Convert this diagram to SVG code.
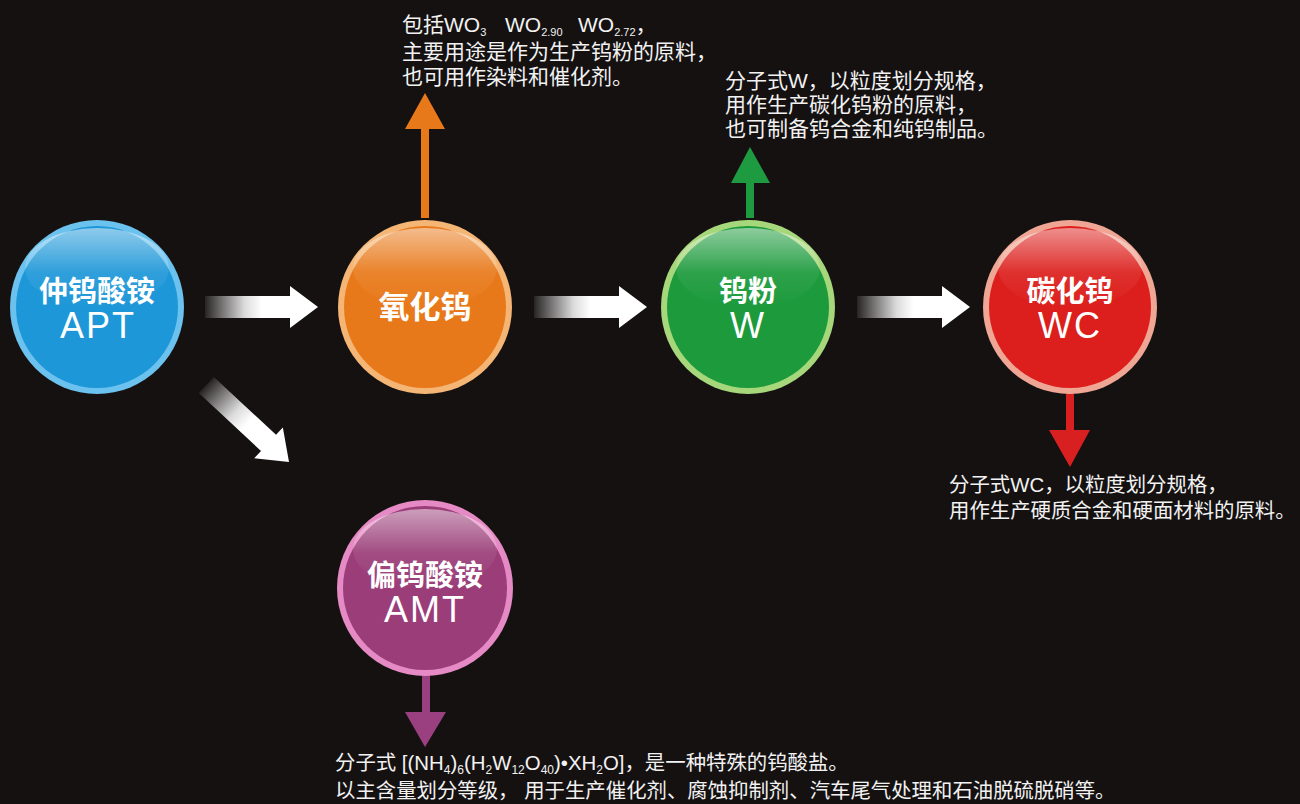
<svg xmlns="http://www.w3.org/2000/svg" width="1300" height="804" viewBox="0 0 1300 804">
<style>
.lbl{font-family:"Liberation Sans","Noto Sans CJK SC",sans-serif;font-weight:bold;fill:#fff;text-anchor:middle}
.cn{font-size:29px}
.en{font-size:36px;font-weight:normal;letter-spacing:2px}
.desc{font-family:"Liberation Sans","Noto Sans CJK SC",sans-serif;font-size:21px;fill:#f2f2f2}
.sub{font-size:11px}
</style>
<defs>
<linearGradient id="gloss" x1="0" y1="0" x2="0" y2="1">
<stop offset="0" stop-color="#fff" stop-opacity="0.5"/>
<stop offset="0.55" stop-color="#fff" stop-opacity="0.08"/>
<stop offset="1" stop-color="#fff" stop-opacity="0"/>
</linearGradient>
<linearGradient id="wArrow" x1="0" y1="0" x2="1" y2="0">
<stop offset="0" stop-color="#fff" stop-opacity="0.08"/>
<stop offset="0.35" stop-color="#fff" stop-opacity="0.85"/>
<stop offset="0.5" stop-color="#fff" stop-opacity="1"/>
<stop offset="1" stop-color="#fff"/>
</linearGradient>
<path id="wa" d="M-113,-11 L-28,-11 L-28,-21 L0,0 L-28,21 L-28,11 L-113,11 Z"/>
</defs>
<rect width="1300" height="804" fill="#151111"/>

<g id="connectors">
<use href="#wa" fill="url(#wArrow)" transform="translate(318,307)"/>
<use href="#wa" fill="url(#wArrow)" transform="translate(647,307)"/>
<use href="#wa" fill="url(#wArrow)" transform="translate(970,307)"/>
<use href="#wa" fill="url(#wArrow)" transform="translate(289,462) rotate(43)"/>
<path d="M421,218 L421,129 L405,129 L425,93 L445,129 L429,129 L429,218 Z" fill="#e8791a"/>
<path d="M746,218 L746,183 L731,183 L750,147 L770,183 L754,183 L754,218 Z" fill="#1e9a40"/>
<path d="M1066,393 L1066,430 L1049,430 L1070,467 L1090,430 L1074,430 L1074,393 Z" fill="#d82020"/>
<path d="M422,675 L422,712 L405,712 L425,747 L446,712 L430,712 L430,675 Z" fill="#9a4080"/>
</g>

<g id="node-apt">
<circle cx="97" cy="307" r="87" fill="#6cc2ee"/>
<circle cx="97" cy="307" r="81" fill="#1e97d8"/>
<ellipse cx="97" cy="268" rx="72" ry="40" fill="url(#gloss)"/>
<text class="lbl cn" x="97" y="302">仲钨酸铵</text>
<text class="lbl en" x="98" y="338">APT</text>
</g>

<g id="node-wo3">
<circle cx="425" cy="307" r="87" fill="#f4b575"/>
<circle cx="425" cy="307" r="81" fill="#e8791a"/>
<ellipse cx="425" cy="268" rx="72" ry="40" fill="url(#gloss)"/>
<text class="lbl cn" x="425" y="318" style="font-size:31px">氧化钨</text>
</g>

<g id="node-w">
<circle cx="748" cy="307" r="87" fill="#a6d77a"/>
<circle cx="748" cy="307" r="81" fill="#1c9a3c"/>
<ellipse cx="748" cy="268" rx="72" ry="40" fill="url(#gloss)"/>
<text class="lbl cn" x="748" y="302">钨粉</text>
<text class="lbl en" x="748" y="338">W</text>
</g>

<g id="node-wc">
<circle cx="1070" cy="307" r="87" fill="#f0a694"/>
<circle cx="1070" cy="307" r="81" fill="#dc1f1c"/>
<ellipse cx="1070" cy="268" rx="72" ry="40" fill="url(#gloss)"/>
<text class="lbl cn" x="1070" y="302">碳化钨</text>
<text class="lbl en" x="1070" y="338">WC</text>
</g>

<g id="node-amt">
<circle cx="425" cy="588" r="88" fill="#e58ac4"/>
<circle cx="425" cy="588" r="82" fill="#9a3d78"/>
<ellipse cx="425" cy="549" rx="72" ry="40" fill="url(#gloss)"/>
<text class="lbl cn" x="425" y="586">偏钨酸铵</text>
<text class="lbl en" x="425" y="622">AMT</text>
</g>

<g id="desc-wo3" class="desc">
<text y="32"><tspan x="402">包括WO</tspan><tspan class="sub" dy="4">3</tspan><tspan x="505" dy="-4">WO</tspan><tspan class="sub" dy="4">2.90</tspan><tspan x="578" dy="-4">WO</tspan><tspan class="sub" dy="4">2.72</tspan><tspan dy="-4">，</tspan></text>
<text x="402" y="59">主要用途是作为生产钨粉的原料，</text>
<text x="402" y="84">也可用作染料和催化剂。</text>
</g>

<g id="desc-w" class="desc">
<text x="725" y="88">分子式W，以粒度划分规格，</text>
<text x="725" y="112">用作生产碳化钨粉的原料，</text>
<text x="725" y="136">也可制备钨合金和纯钨制品。</text>
</g>

<g id="desc-wc" class="desc" style="font-size:20.4px">
<text x="949" y="492">分子式WC，以粒度划分规格，</text>
<text x="949" y="518">用作生产硬质合金和硬面材料的原料。</text>
</g>

<g id="desc-amt" class="desc" style="font-size:20.4px">
<text x="335" y="770">分子式 [(NH<tspan class="sub" style="font-size:12px" dy="4">4</tspan><tspan dy="-4">)</tspan><tspan class="sub" style="font-size:12px" dy="4">6</tspan><tspan dy="-4">(H</tspan><tspan class="sub" style="font-size:12px" dy="4">2</tspan><tspan dy="-4">W</tspan><tspan class="sub" style="font-size:12px" dy="4">12</tspan><tspan dy="-4">O</tspan><tspan class="sub" style="font-size:12px" dy="4">40</tspan><tspan dy="-4">)•XH</tspan><tspan class="sub" style="font-size:12px" dy="4">2</tspan><tspan dy="-4">O]，是一种特殊的钨酸盐。</tspan></text>
<text x="335" y="798">以主含量划分等级， 用于生产催化剂、腐蚀抑制剂、汽车尾气处理和石油脱硫脱硝等。</text>
</g>
</svg>
